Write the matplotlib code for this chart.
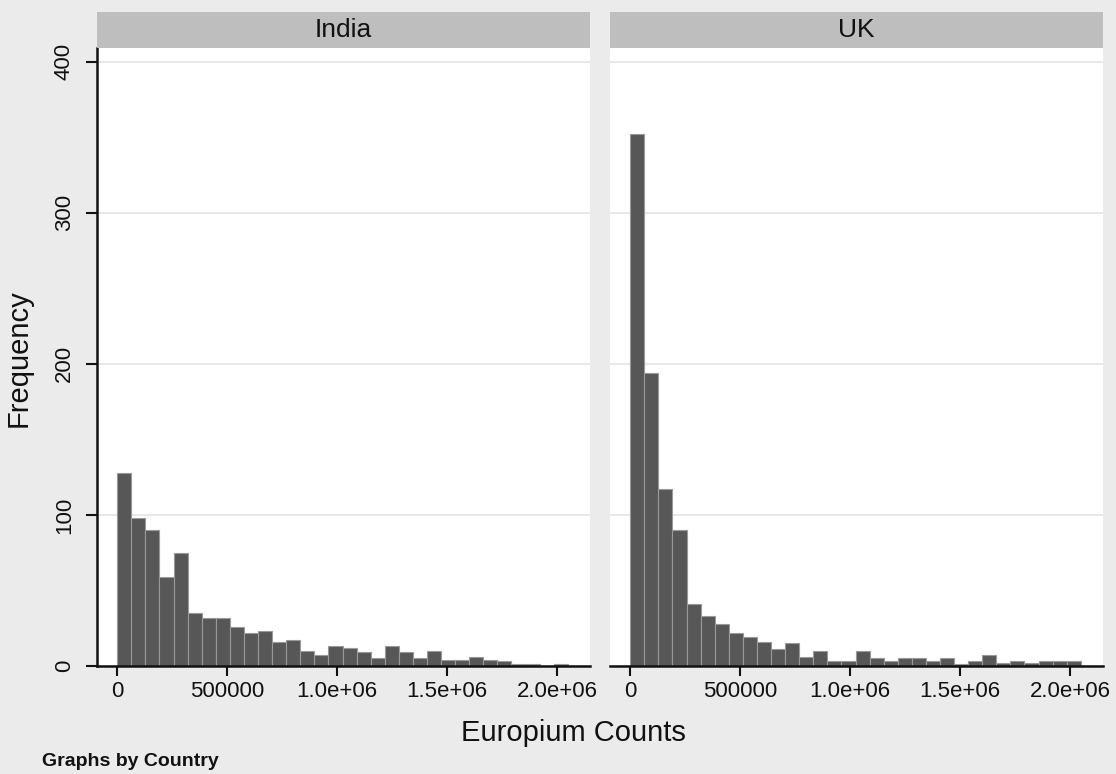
import matplotlib
matplotlib.use("Agg")
import matplotlib.pyplot as plt
import numpy as np

plt.rcParams['font.family'] = ['Liberation Sans', 'DejaVu Sans']

# ---- data ----
countries = ["India", "UK"]
bin_start = 0
bin_width = 64000
india_counts = [128, 98, 90, 59, 75, 35, 32, 32, 26, 22, 23, 16, 17, 10, 7, 13,
                12, 9, 5, 13, 9, 5, 10, 4, 4, 6, 4, 3, 1, 1, 0, 1]
uk_counts = [352, 194, 117, 90, 41, 33, 28, 22, 19, 16, 11, 15, 6, 10, 3, 3,
             10, 5, 3, 5, 5, 3, 5, 1, 3, 7, 2, 3, 2, 3, 3, 3]
x_ticks = [0, 500000, 1000000, 1500000, 2000000]
x_tick_labels = ["0", "500000", "1.0e+06", "1.5e+06", "2.0e+06"]
y_ticks = [0, 100, 200, 300, 400]
y_tick_labels = ["0", "100", "200", "300", "400"]
x_label = "Europium Counts"
y_label = "Frequency"
note = "Graphs by Country"

W, H = 1116, 774
fig = plt.figure(figsize=(W / 100, H / 100), dpi=100, facecolor='#ebebeb')

def fx(px):
    return px / W

def fy(py):
    return 1 - py / H

panel_left = [97, 610]
panel_w = 493
top_px, bottom_px = 48, 666
strip_top = 12

bar_face = '#575757'
bar_edge = '#9a9a9a'

for i, (name, counts) in enumerate(zip(countries, [india_counts, uk_counts])):
    left = panel_left[i]
    ax = fig.add_axes([fx(left), fy(bottom_px), fx(panel_w), (bottom_px - top_px) / H])
    ax.set_facecolor('white')
    edges = bin_start + bin_width * np.arange(len(counts))
    ax.bar(edges, counts, width=bin_width, align='edge', color=bar_face,
           edgecolor=bar_edge, linewidth=0.8, zorder=2)
    ax.set_xlim(-92000, 2149000)
    ax.set_ylim(0, 409)
    ax.set_axisbelow(True)
    ax.yaxis.grid(True, color='#e4e4e4', linewidth=1.2, zorder=0)
    ax.set_xticks(x_ticks)
    ax.set_xticklabels(x_tick_labels, fontsize=16)
    ax.tick_params(axis='x', direction='out', length=7, width=1.5, pad=4,
                   color='#111111', labelcolor='#111111')
    ax.spines['top'].set_visible(False)
    ax.spines['right'].set_visible(False)
    ax.spines['bottom'].set_linewidth(1.8)
    ax.spines['bottom'].set_color('#111111')
    ax.set_yticks(y_ticks)
    if i == 0:
        ax.set_yticklabels(y_tick_labels, fontsize=16, rotation=90, va='center')
        ax.tick_params(axis='y', direction='out', length=8, width=1.5, pad=8,
                       color='#111111', labelcolor='#111111')
        ax.spines['left'].set_linewidth(1.8)
        ax.spines['left'].set_color('#111111')
    else:
        ax.set_yticklabels([])
        ax.tick_params(axis='y', length=0)
        ax.spines['left'].set_visible(False)

    # header strip
    sax = fig.add_axes([fx(left), fy(top_px), fx(panel_w), (top_px - strip_top) / H])
    sax.set_facecolor('#bebebe')
    sax.set_xticks([])
    sax.set_yticks([])
    for s in sax.spines.values():
        s.set_visible(False)
    sax.text(0.5, 0.5, name, ha='center', va='center', fontsize=19,
             transform=sax.transAxes, color='#111111')

fig.text(fx(19), fy(358), y_label, rotation=90, ha='center', va='center',
         fontsize=21, color='#111111')
fig.text(fx(573), fy(733), x_label, ha='center', va='center', fontsize=21,
         color='#111111')
fig.text(fx(42), fy(762), note, ha='left', va='center', fontsize=14,
         fontweight='bold', color='#111111')

fig.savefig("out.png", dpi=100, facecolor=fig.get_facecolor())
